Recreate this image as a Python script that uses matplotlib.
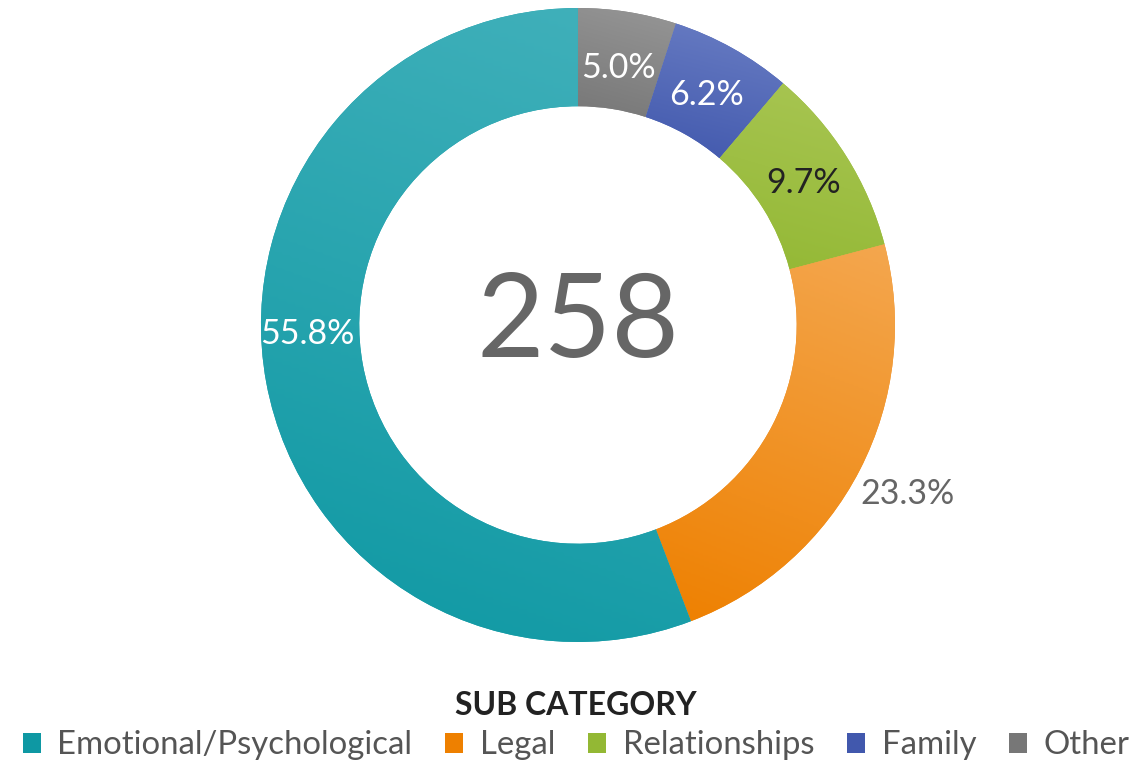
import matplotlib
matplotlib.use("Agg")
import matplotlib.pyplot as plt
import numpy as np
from matplotlib.colors import LinearSegmentedColormap
from matplotlib.patches import Patch

plt.rcParams['font.family'] = ['Lato', 'DejaVu Sans']

# data (clockwise from 12 o'clock)
labels = ['Other', 'Family', 'Relationships', 'Legal', 'Emotional/Psychological']
values = [5.0, 6.2, 9.7, 23.3, 55.8]
total = 258
legend_order = ['Emotional/Psychological', 'Legal', 'Relationships', 'Family', 'Other']

base_colors = {'Other': '#818181', 'Family': '#4c62b6', 'Relationships': '#9bbd3e',
               'Legal': '#f08c1f', 'Emotional/Psychological': '#1a9fa9'}
light_colors = {'Other': '#969696', 'Family': '#6a7ec4', 'Relationships': '#a9c654',
                'Legal': '#f4a74f', 'Emotional/Psychological': '#42b1bb'}
dark_colors = {'Other': '#777777', 'Family': '#4158ad', 'Relationships': '#93b834',
               'Legal': '#ee8000', 'Emotional/Psychological': '#0e98a3'}
label_colors = {'Other': 'white', 'Family': 'white', 'Relationships': '#222222',
                'Legal': '#666666', 'Emotional/Psychological': 'white'}
label_radius = {'Other': 0.82, 'Family': 0.83, 'Relationships': 0.84,
                'Legal': 1.17, 'Emotional/Psychological': 0.855}
# the big slice's label sits near 9 o'clock rather than at the slice middle
label_angle = {'Emotional/Psychological': 182.0}

fig = plt.figure(figsize=(11.41, 7.61), dpi=100)
ax = fig.add_axes([0.2287, 0.1564, 0.5557, 0.8331])

wedges, _ = ax.pie(values, colors=[base_colors[l] for l in labels], startangle=90,
                   counterclock=False, radius=1,
                   wedgeprops=dict(width=0.31, edgecolor='none'))

# soft top-to-bottom gradient on each slice
for w, lab in zip(wedges, labels):
    bb = w.get_path().get_extents()
    xx, yy = np.meshgrid(np.linspace(0, 1, 200), np.linspace(0, 1, 200))
    grad = 0.8 * yy + 0.2 * xx
    cmap = LinearSegmentedColormap.from_list('g', [dark_colors[lab], light_colors[lab]])
    im = ax.imshow(grad, extent=[bb.x0, bb.x1, bb.y0, bb.y1], origin='lower',
                   cmap=cmap, interpolation='bilinear', zorder=1.5)
    im.set_clip_path(w)

    ang = np.deg2rad(label_angle.get(lab, (w.theta1 + w.theta2) / 2))
    r = label_radius[lab]
    ax.text(r * np.cos(ang), r * np.sin(ang), f'{values[labels.index(lab)]:.1f}%',
            ha='center', va='center', fontsize=24.5, color=label_colors[lab], zorder=3)

ax.text(0, 0.0, str(total), ha='center', va='center', fontsize=84,
        color='#666666', fontweight='normal')

ax.set_xlim(-1, 1)
ax.set_ylim(-1, 1)
ax.set_aspect('equal')
ax.axis('off')

handles = [Patch(facecolor=dark_colors[l], edgecolor='none') for l in legend_order]
leg = fig.legend(handles, legend_order, loc='lower center', bbox_to_anchor=(0.505, -0.038),
                 ncol=5, frameon=False, fontsize=23.7, handlelength=0.55, handleheight=0.55,
                 handletextpad=0.5, columnspacing=1.0, labelspacing=0.3,
                 title='SUB CATEGORY', title_fontproperties={'weight': 'bold', 'size': 23})
for t in leg.get_texts():
    t.set_color('#555555')
leg.get_title().set_color('#222222')

fig.savefig('out.png', dpi=100)
